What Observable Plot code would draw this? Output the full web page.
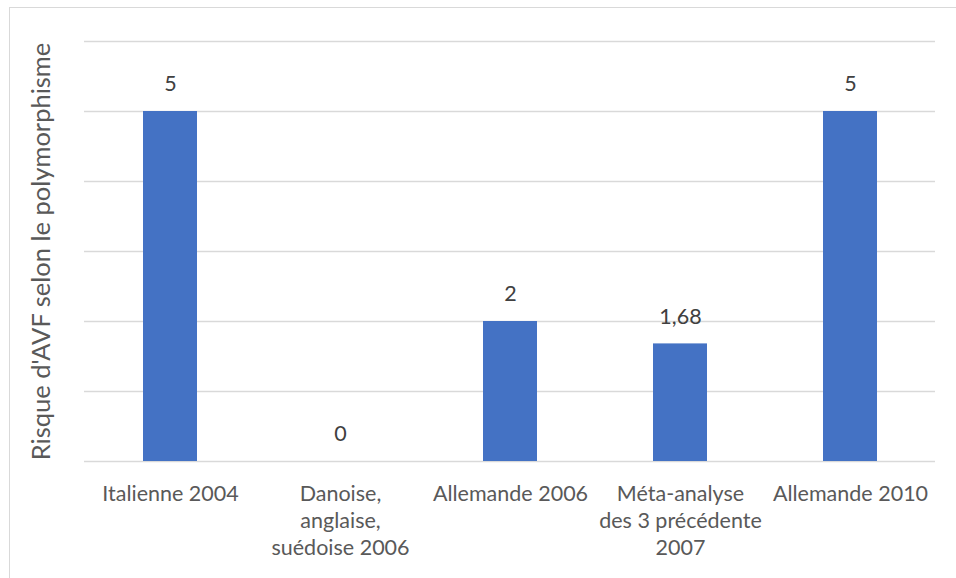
<!DOCTYPE html>
<html>
<head>
<meta charset="utf-8">
<script src="https://cdn.jsdelivr.net/npm/d3@7"></script>
<script src="https://cdn.jsdelivr.net/npm/@observablehq/plot@0.6"></script>
<style>
  html, body { margin: 0; padding: 0; background: #fff; overflow: hidden; }
  #wrap { position: relative; width: 956px; height: 578px; }
  #border { position: absolute; left: 9px; top: 7px; width: 1000px; height: 700px; border: 1px solid #d9d9d9; box-sizing: border-box; }
  #chart { position: absolute; left: 0; top: 0; }
</style>
</head>
<body>
<div id="wrap"><div id="border"></div><div id="chart"></div></div>
<script>
const categories = ["Italienne 2004", "Danoise, anglaise, suédoise 2006", "Allemande 2006", "Méta-analyse des 3 précédente 2007", "Allemande 2010"];
const tickLabels = ["Italienne 2004", "Danoise,\nanglaise,\nsuédoise 2006", "Allemande 2006", "Méta-analyse\ndes 3 précédente\n2007", "Allemande 2010"];
const values = [5, 0, 2, 1.68, 5];
const yTicks = [0, 1, 2, 3, 4, 5, 6];
const yLabel = "Risque d'AVF selon le polymorphisme";

const data = categories.map((c, i) => ({cat: c, value: values[i], tick: tickLabels[i]}));
const fmt = v => String(v).replace(".", ",");
const tickMap = new Map(data.map(d => [d.cat, d.tick]));

const chart = Plot.plot({
  width: 956,
  height: 578,
  marginLeft: 84,
  marginRight: 21,
  marginTop: 41,
  marginBottom: 117,
  style: {fontFamily: "Lato, 'Open Sans', sans-serif", color: "#595959", background: "transparent"},
  x: {domain: categories, padding: 0},
  y: {domain: [0, 6]},
  marks: [
    Plot.gridY(yTicks, {stroke: "#d9d9d9", strokeOpacity: 1, strokeWidth: 1.3}),
    Plot.barY(data, {x: "cat", y: "value", fill: "#4472C4", insetLeft: 58, insetRight: 58}),
    Plot.text(data, {x: "cat", y: "value", text: d => fmt(d.value), dy: -27, fontSize: 21.5, fill: "#404040"}),
    Plot.axisX({tickSize: 0, tickPadding: 20, fontSize: 21.5, lineHeight: 1.26, tickFormat: d => tickMap.get(d), fill: "#595959", label: null}),
    Plot.axisY({ticks: [], label: null}),
    Plot.text([yLabel], {frameAnchor: "left", textAnchor: "middle", dx: -43, dy: 0, rotate: -90, fontSize: 25.5, fill: "#595959", text: d => d})
  ]
});
document.getElementById("chart").appendChild(chart);
</script>
</body>
</html>
